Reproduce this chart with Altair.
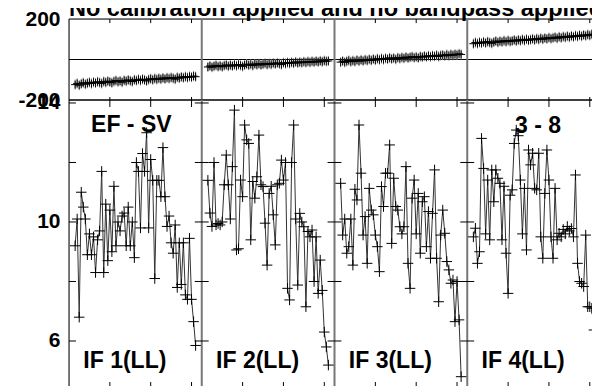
import altair as alt
import pandas as pd

FONT = "Liberation Sans"
TITLE = "No calibration applied and no bandpass applied"
BASELINE_LABEL = "EF - SV"
STOKES_LABEL = "3 - 8"
IF_LABELS = ["IF 1(LL)", "IF 2(LL)", "IF 3(LL)", "IF 4(LL)"]

FIRST_CHANNEL = 3          # first plotted channel inside each IF window
IF_SPAN = 65               # channel units per IF window
N_IF = 4
CHANNEL_TICKS = [20, 40, 60]
PHASE_DOMAIN = [-200, 200]
PHASE_LABELS = [-200, 200]
AMP_DOMAIN = [4.42, 14.1]
AMP_LABELS = [6, 10, 14]
AMP_MINOR = [6, 8, 10, 12, 14]
PHASE_ERR = 25

AMP_IF1 = [9.2, 10.1, 6.8, 11.0, 10.5, 10.1, 8.9, 9.6, 8.9, 9.5,
           8.3, 9.4, 9.7, 11.7, 8.3, 10.6, 8.7, 10.4, 9.0, 11.2,
           9.2, 10.0, 9.7, 10.2, 10.3, 9.2, 10.5, 9.2, 10.0, 8.8,
           12.0, 11.7, 9.8, 12.3, 11.7, 13.0, 9.8, 12.1, 11.4, 8.1,
           11.4, 11.4, 10.85, 12.5, 10.85, 9.85, 10.2, 9.3, 8.95, 9.9,
           7.8, 9.3, 7.9, 9.3, 7.55, 7.4, 9.45, 7.4, 6.65, 5.85]
AMP_IF2 = [11.4, 10.3, 9.85, 12.0, 9.9, 9.95, 9.9, 10.0, 11.25, 12.25,
           11.25, 10.1, 11.86, 13.76, 9.06, 9.1, 11.41, 10.85, 13.26, 12.76,
           12.64, 9.4, 11.36, 10.8, 11.52, 12.92, 11.25, 11.19, 9.96, 8.55,
           10.96, 11.2, 10.24, 9.23, 11.25, 11.3, 12.08, 11.41, 12.0, 7.77,
           7.38, 12.0, 13.26, 10.1, 7.88, 10.29, 10.0, 9.84, 7.15, 9.68,
           9.5, 9.73, 8.0, 9.5, 7.6, 8.72, 7.7, 6.3, 5.8, 5.19]
AMP_IF3 = [11.3, 9.56, 10.1, 8.95, 9.17, 10.1, 8.55, 11.1, 10.74, 13.26,
           11.64, 9.56, 10.18, 8.61, 11.13, 10.4, 10.24, 9.56, 9.17, 8.33,
           11.19, 10.52, 11.64, 11.64, 12.59, 9.28, 11.47, 10.52, 10.4, 9.84,
           9.6, 9.84, 11.86, 8.61, 7.77, 10.8, 11.41, 9.6, 10.96, 8.95,
           10.68, 10.85, 9.17, 10.35, 8.78, 10.29, 11.75, 8.78, 7.32, 9.56,
           10.4, 9.62, 8.67, 8.39, 7.94, 8.05, 6.65, 8.0, 6.71, 4.8]
AMP_IF4 = [9.5, 9.79, 8.61, 9.0, 12.81, 11.8, 9.6, 11.41, 9.4, 11.75,
           10.68, 11.75, 11.47, 11.3, 9.4, 11.2, 8.95, 7.6, 10.9, 11.08,
           12.64, 13.09, 12.9, 11.41, 9.6, 11.13, 9.06, 12.42, 11.92, 12.31,
           11.13, 11.08, 12.31, 9.5, 8.78, 10.96, 12.42, 11.41, 9.5, 8.78,
           11.13, 9.4, 9.62, 9.5, 9.75, 9.6, 9.85, 9.7, 9.78, 9.5,
           11.58, 8.61, 8.0, 7.94, 7.83, 9.56, 7.15, 7.15, 7.1, 6.37]

PHASE_IF1 = [-124, -118, -127, -120, -115, -122, -117, -113, -119, -112,
             -116, -110, -114, -118, -109, -113, -107, -111, -115, -108,
             -104, -110, -106, -112, -103, -107, -101, -105, -109, -100,
             -104, -98, -103, -97, -101, -106, -99, -95, -100, -94,
             -98, -93, -97, -91, -96, -90, -94, -89, -93, -97,
             -88, -92, -86, -90, -85, -89, -84, -87, -82, -85]
PHASE_IF2 = [-37, -32, -38, -33, -29, -35, -31, -36, -30, -27,
             -33, -28, -32, -26, -31, -25, -29, -34, -27, -23,
             -28, -24, -30, -22, -26, -21, -27, -23, -19, -25,
             -20, -24, -18, -22, -17, -21, -25, -16, -20, -15,
             -19, -14, -18, -12, -17, -13, -16, -11, -15, -10,
             -14, -9, -13, -8, -12, -7, -11, -6, -9, -7]
PHASE_IF3 = [-13, -8, -14, -9, -5, -11, -6, -10, -3, -8,
             -2, -7, -1, -5, 1, -4, 2, -3, 4, -1,
             5, 0, 6, 2, 8, 3, 7, 1, 9, 5,
             10, 6, 12, 7, 11, 14, 9, 13, 8, 15,
             12, 17, 13, 18, 14, 19, 16, 21, 15, 20,
             22, 18, 24, 19, 25, 21, 26, 23, 28, 25]
PHASE_IF4 = [78, 84, 79, 85, 81, 87, 82, 88, 84, 80,
             86, 91, 85, 90, 87, 93, 88, 94, 89, 92,
             96, 91, 97, 93, 99, 94, 100, 95, 98, 102,
             97, 103, 99, 105, 100, 106, 102, 108, 103, 107,
             110, 105, 112, 107, 113, 109, 115, 110, 116, 112,
             118, 114, 120, 115, 121, 117, 123, 119, 125, 122]

AMPS = [AMP_IF1, AMP_IF2, AMP_IF3, AMP_IF4]
PHASES = [PHASE_IF1, PHASE_IF2, PHASE_IF3, PHASE_IF4]

# ---- tables -------------------------------------------------------------
rows = []
for k in range(N_IF):
    for j, (a, p) in enumerate(zip(AMPS[k], PHASES[k])):
        rows.append(dict(IF=k + 1, x=k * IF_SPAN + FIRST_CHANNEL + j,
                         amp=a, phase=p, lo=p - PHASE_ERR, hi=p + PHASE_ERR))
df = pd.DataFrame(rows)

X_MAX = N_IF * IF_SPAN
bounds = [k * IF_SPAN for k in range(N_IF + 1)]
seps = bounds[1:-1]

# top panel frame
top_h = pd.DataFrame({"x0": [0, 0, 0], "x1": [X_MAX] * 3,
                      "y": [PHASE_DOMAIN[1], 0, PHASE_DOMAIN[0]]})
top_v = pd.DataFrame({"x": seps, "y0": [PHASE_DOMAIN[0]] * len(seps),
                      "y1": [PHASE_DOMAIN[1]] * len(seps)})
top_edge = pd.DataFrame({"x": [0, X_MAX], "y0": [PHASE_DOMAIN[0]] * 2,
                         "y1": [PHASE_DOMAIN[1]] * 2})
tt = []
for b in bounds[:-1]:
    for t in CHANNEL_TICKS:
        tt.append(dict(x=b + t, y0=200, y1=180))
        tt.append(dict(x=b + t, y0=-200, y1=-185))
top_ticks = pd.DataFrame(tt)
title_df = pd.DataFrame({"x": [0], "text": [TITLE]})

# bottom panel frame
bot_h = pd.DataFrame({"x0": [0, 0], "x1": [X_MAX] * 2, "y": AMP_DOMAIN})
bot_v = pd.DataFrame({"x": seps, "y0": [AMP_DOMAIN[0]] * len(seps),
                      "y1": [AMP_DOMAIN[1]] * len(seps)})
bot_edge = pd.DataFrame({"x": [0, X_MAX], "y0": [AMP_DOMAIN[0]] * 2,
                         "y1": [AMP_DOMAIN[1]] * 2})
bt = []
for b in bounds[:-1]:
    for t in CHANNEL_TICKS:
        bt.append(dict(x=b + t, y0=AMP_DOMAIN[1], y1=AMP_DOMAIN[1] - 0.235))
        bt.append(dict(x=b + t, y0=AMP_DOMAIN[0], y1=AMP_DOMAIN[0] + 0.2))
bot_ticks = pd.DataFrame(bt)
yt = []
for b in bounds:
    for v in AMP_MINOR:
        yt.append(dict(x0=max(b - 3.4, 0), x1=min(b + 3.4, X_MAX), y=v))
bot_yticks = pd.DataFrame(yt)

labels = pd.DataFrame(
    [dict(x=k * IF_SPAN + 7, y=5.09, text=IF_LABELS[k]) for k in range(N_IF)]
    + [dict(x=10.8, y=13.02, text=BASELINE_LABEL),
       dict(x=3 * IF_SPAN + 23.4, y=12.99, text=STOKES_LABEL)])

# ---- scales / axes ------------------------------------------------------
FULL_W = 531          # pixel width of the four IF windows
W, H = 523, 369       # svg must fit inside the page body (584 px incl. padding)
xs = alt.Scale(domain=[0, X_MAX], range=[0, FULL_W], nice=False, zero=False)
ys_top = alt.Scale(domain=PHASE_DOMAIN, range=[81, 0], nice=False, zero=False)
ys_bot = alt.Scale(domain=AMP_DOMAIN, range=[H, 81], nice=False, zero=False)


def mk_axis(values):
    return alt.Axis(values=values, title=None, ticks=False, domain=False, grid=False,
                    orient="left", labelFont=FONT, labelFontSize=21,
                    labelFontWeight="bold", labelColor="black", labelPadding=9,
                    labelFlush=False, labelOverlap=False, labelBaseline="middle",
                    labelExpr="replace(datum.label, '\u2212', '-')")


ax_top = mk_axis(PHASE_LABELS)
ax_bot = mk_axis(AMP_LABELS)


def X(f):
    return alt.X(f, type="quantitative", scale=xs, axis=None)


def YT(f):
    return alt.Y(f, type="quantitative", scale=ys_top, axis=ax_top)


def YB(f):
    return alt.Y(f, type="quantitative", scale=ys_bot, axis=ax_bot)


CROSS = "M-1,0H1M0,-1V1"

top = alt.layer(
    alt.Chart(top_h).mark_rule(color="black", strokeWidth=1).encode(
        x=X("x0"), x2="x1", y=YT("y")),
    alt.Chart(top_v).mark_rule(color="#777777", strokeWidth=2).encode(
        x=X("x"), y=YT("y0"), y2="y1"),
    alt.Chart(top_edge).mark_rule(color="black", strokeWidth=1).encode(
        x=X("x"), y=YT("y0"), y2="y1"),
    alt.Chart(top_ticks).mark_rule(color="black", strokeWidth=1).encode(
        x=X("x"), y=YT("y0"), y2="y1"),
    alt.Chart(df).mark_rule(color="#8a8a8a", strokeWidth=1).encode(
        x=X("x"), y=YT("lo"), y2="hi"),
    alt.Chart(df).mark_line(color="#222222", strokeWidth=1).encode(
        x=X("x"), y=YT("phase"), detail="IF:N"),
    alt.Chart(df).mark_point(shape=CROSS, filled=False, size=64, color="black",
                             strokeWidth=1, opacity=1).encode(
        x=X("x"), y=YT("phase")),
    alt.Chart(title_df).mark_text(align="left", baseline="alphabetic", font=FONT,
                                  fontSize=23.5, fontWeight="bold", color="black").encode(
        x=X("x"), y=alt.value(-3), text="text:N"),
)

bottom = alt.layer(
    alt.Chart(bot_h).mark_rule(color="black", strokeWidth=1).encode(
        x=X("x0"), x2="x1", y=YB("y")),
    alt.Chart(bot_v).mark_rule(color="#777777", strokeWidth=2).encode(
        x=X("x"), y=YB("y0"), y2="y1"),
    alt.Chart(bot_edge).mark_rule(color="black", strokeWidth=1).encode(
        x=X("x"), y=YB("y0"), y2="y1"),
    alt.Chart(bot_ticks).mark_rule(color="black", strokeWidth=1).encode(
        x=X("x"), y=YB("y0"), y2="y1"),
    alt.Chart(bot_yticks).mark_rule(color="black", strokeWidth=1).encode(
        x=X("x0"), x2="x1", y=YB("y")),
    alt.Chart(df).mark_line(color="#333333", strokeWidth=1).encode(
        x=X("x"), y=YB("amp"), detail="IF:N"),
    alt.Chart(df).mark_point(shape=CROSS, filled=False, size=110, color="black",
                             strokeWidth=1, opacity=1).encode(
        x=X("x"), y=YB("amp")),
    alt.Chart(labels).mark_text(align="left", baseline="alphabetic", font=FONT,
                                fontSize=23, fontWeight="bold", color="black").encode(
        x=X("x"), y=YB("y"), text="text:N"),
)

chart = alt.layer(top, bottom).resolve_scale(y="independent").properties(
    width=W, height=H,
    autosize=alt.AutoSizeParams(type="none"),
    padding={"left": 61, "top": 11, "right": 0, "bottom": 0},
).configure_view(stroke=None).configure(background="white")

chart.save("out.html", embed_options={"renderer": "svg", "actions": False})
